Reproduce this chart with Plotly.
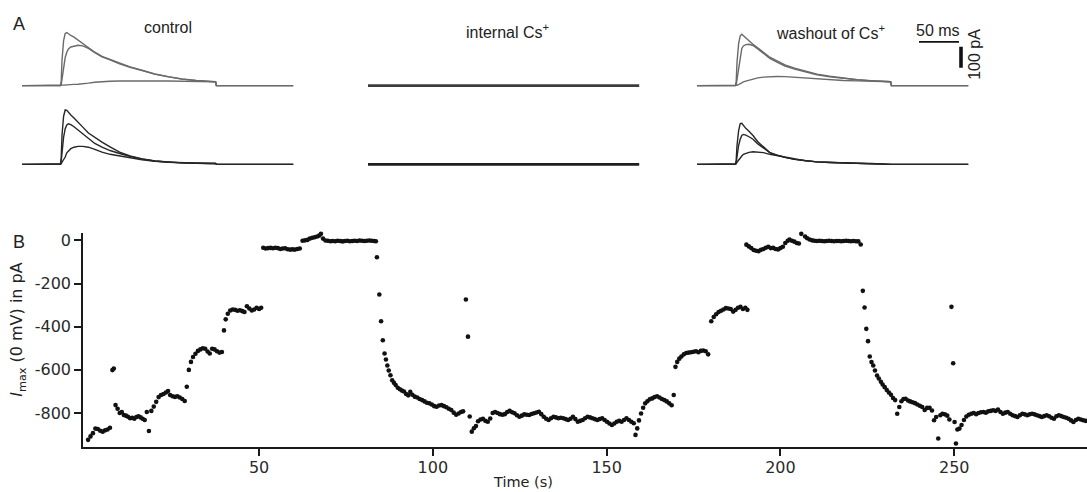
import plotly.graph_objects as go

W, H = 1087, 492

# ---------------- Panel B data: (time s, Imax pA) ----------------
seg_control_rundown = [
    (0.8, -924), (1.5, -908), (2.2, -893), (2.9, -872), (3.6, -874), (4.3, -882), (5.0, -886),
    (5.7, -880), (6.4, -876), (7.1, -868), (7.8, -601), (8.2, -594),
    (8.7, -763), (9.3, -780), (9.9, -800), (10.5, -795), (11.1, -809), (11.7, -812), (12.3, -817),
    (12.9, -824), (13.5, -822), (14.1, -826), (14.7, -818), (15.3, -815), (15.9, -820), (16.5, -826),
    (17.1, -832), (17.7, -795), (18.3, -883), (19.0, -790), (19.7, -770), (20.4, -748), (21.1, -726),
    (21.8, -716), (22.5, -712), (23.2, -705), (23.8, -698), (24.4, -716), (25.1, -722), (25.8, -725),
    (26.5, -722), (27.2, -728), (27.9, -735), (28.6, -744),
    (29.2, -678), (29.8, -600), (30.4, -563), (31.0, -540), (31.7, -525), (32.4, -512), (33.1, -505),
    (33.8, -500), (34.5, -502), (35.2, -515), (35.8, -524), (36.5, -502), (37.2, -505), (37.9, -514),
    (38.6, -520), (39.3, -517),
    (39.9, -417), (40.4, -366), (41.0, -340), (41.7, -325), (42.4, -320), (43.1, -322), (43.8, -326),
    (44.5, -324), (45.2, -328), (45.8, -332), (46.5, -305), (47.2, -316), (47.9, -325), (48.6, -320),
    (49.3, -312), (50.0, -318), (50.6, -312),
]
seg_cs_block = [
    (51.2, -34), (51.9, -38), (52.6, -36), (53.3, -35), (54.0, -37), (54.7, -34), (55.4, -36),
    (56.1, -40), (56.8, -38), (57.5, -37), (58.2, -41), (58.9, -43), (59.6, -42), (60.3, -43),
    (61.0, -40), (61.7, -38),
    (62.5, -2), (63.2, 0), (63.9, 2), (64.6, 8), (65.3, 12), (66.0, 14), (66.7, 18), (67.3, 22),
    (67.8, 30), (68.4, 8), (69.1, -1), (69.8, -2), (70.5, -4), (71.2, -3), (71.9, -4), (72.6, -2),
    (73.3, -3), (74.0, -5), (74.7, -3), (75.4, -2), (76.1, -4), (76.8, -3), (77.5, -2), (78.2, -3),
    (78.9, -1), (79.6, -2), (80.3, -3), (81.0, -2), (81.7, -1), (82.4, -2), (83.1, -3), (83.6, -4),
]
seg_washout_recovery = [
    (83.9, -78), (84.6, -251), (85.1, -375), (85.6, -463), (86.1, -524), (86.5, -552), (86.9, -580),
    (87.3, -603), (87.8, -625), (88.3, -648), (88.8, -660), (89.3, -670), (89.9, -683), (90.5, -690),
    (91.1, -696), (91.7, -700), (92.3, -712), (92.9, -718), (93.5, -702), (94.1, -715), (94.8, -724),
    (95.5, -728), (96.2, -735), (96.9, -740), (97.6, -746), (98.3, -752), (99.0, -755), (99.7, -760),
    (100.4, -768), (101.1, -771), (101.8, -765), (102.5, -763), (103.2, -768), (103.9, -773),
    (104.6, -780), (105.3, -786), (106.0, -798), (106.7, -808), (107.4, -802), (108.1, -795),
    (108.7, -792), (109.5, -274), (110.1, -446),
    (110.6, -816), (111.2, -886), (111.8, -870), (112.4, -860), (113.0, -838), (113.7, -830),
    (114.4, -827), (115.1, -836), (115.8, -840), (116.5, -825), (117.2, -800), (117.9, -795),
    (118.6, -800), (119.3, -805), (120.0, -808), (120.7, -805), (121.4, -795), (122.1, -790),
    (122.8, -796), (123.5, -801), (124.2, -810), (124.9, -817), (125.6, -812), (126.3, -806),
    (127.0, -808), (127.7, -809), (128.4, -804), (129.1, -801), (129.8, -797), (130.5, -794),
    (131.2, -805), (131.9, -817), (132.6, -826), (133.3, -832), (134.0, -824), (134.7, -817),
    (135.4, -820), (136.1, -824), (136.8, -822), (137.5, -824), (138.2, -828), (138.9, -832),
    (139.6, -826), (140.3, -817), (141.0, -828), (141.7, -840), (142.4, -836), (143.1, -832),
    (143.8, -824), (144.5, -817), (145.2, -820), (145.9, -824), (146.6, -828), (147.3, -832),
    (148.0, -828), (148.7, -824), (149.4, -832), (150.1, -840), (150.8, -848), (151.5, -855),
    (152.2, -848), (152.9, -840), (153.6, -836), (154.3, -840), (155.0, -832), (155.7, -824),
    (156.4, -832), (157.1, -840), (157.8, -847),
]
seg_second_rundown = [
    (158.3, -901), (158.8, -871), (159.3, -834), (159.9, -802), (160.5, -775), (161.1, -755),
    (161.7, -745), (162.4, -736), (163.1, -732), (163.8, -726), (164.5, -722), (165.2, -728),
    (165.9, -735), (166.6, -740), (167.3, -746), (168.0, -755), (168.7, -764), (169.3, -716),
    (169.8, -586), (170.3, -563), (170.9, -548), (171.5, -538), (172.2, -528), (172.9, -522),
    (173.6, -520), (174.3, -518), (175.0, -516), (175.7, -514), (176.4, -518), (177.1, -512),
    (177.8, -510), (178.5, -514), (179.2, -528),
    (180.1, -375), (180.8, -355), (181.5, -342), (182.2, -332), (182.9, -326), (183.6, -320),
    (184.3, -314), (185.0, -316), (185.7, -318), (186.4, -330), (187.1, -322), (187.8, -312),
    (188.5, -308), (189.2, -318), (189.9, -312), (190.5, -322),
]
seg_second_block = [
    (190.2, -20), (190.9, -28), (191.6, -36), (192.3, -45), (193.0, -48), (193.7, -50), (194.4, -44),
    (195.1, -40), (195.8, -34), (196.5, -30), (197.2, -36), (197.9, -35), (198.6, -40), (199.3, -42),
    (200.0, -36), (200.7, -30), (201.4, -12), (202.1, -2), (202.6, 4), (203.3, -2), (204.0, -6),
    (204.7, -12), (205.3, -15), (206.0, 30), (206.5, 35), (207.1, 18), (207.7, 10), (208.4, 4),
    (209.1, 0), (209.8, -2), (210.5, -3), (211.2, -2), (211.9, -3), (212.6, -4), (213.3, -3),
    (214.0, -2), (214.7, -3), (215.4, -4), (216.1, -3), (216.8, -3), (217.5, -4), (218.2, -3),
    (218.9, -2), (219.6, -3), (220.3, -4), (221.0, -3), (221.7, -4), (222.4, -5), (223.1, -19),
]
seg_second_recovery = [
    (223.7, -234), (224.2, -311), (224.7, -410), (225.2, -467), (225.7, -538), (226.2, -564),
    (226.7, -580), (227.2, -603), (227.8, -626), (228.3, -640), (228.9, -655), (229.4, -668),
    (230.0, -680), (230.6, -693), (231.2, -705), (231.8, -715), (232.4, -730), (233.0, -740),
    (233.6, -803), (234.2, -772), (234.8, -745), (235.4, -735), (236.0, -734), (236.7, -742),
    (237.3, -746), (238.0, -750), (238.7, -754), (239.4, -760), (240.1, -766), (240.8, -772),
    (241.5, -786), (242.2, -776), (242.9, -775), (243.6, -788), (244.2, -833), (244.8, -818),
    (245.4, -918), (246.0, -810), (246.6, -803), (247.3, -806), (248.0, -812), (248.6, -830),
    (249.2, -308), (249.7, -569), (250.1, -841), (250.5, -941), (250.9, -876), (251.5, -872),
    (252.1, -855), (252.8, -832), (253.5, -816), (254.2, -808), (254.9, -803), (255.6, -800),
    (256.3, -805), (257.0, -800), (257.7, -796), (258.4, -795), (259.1, -798), (259.8, -792),
    (260.5, -790), (261.2, -787), (261.9, -790), (262.6, -784), (263.3, -795), (264.0, -803),
    (264.7, -798), (265.4, -795), (266.1, -803), (266.8, -810), (267.5, -814), (268.2, -818),
    (268.9, -810), (269.6, -803), (270.3, -806), (271.0, -810), (271.7, -806), (272.4, -803),
    (273.1, -806), (273.8, -810), (274.5, -814), (275.2, -818), (275.9, -814), (276.6, -810),
    (277.3, -815), (278.0, -822), (278.7, -826), (279.4, -815), (280.1, -810), (280.8, -814),
    (281.5, -818), (282.2, -822), (282.9, -826), (283.6, -834), (284.3, -841), (285.0, -832),
    (285.7, -826), (286.4, -830), (287.1, -833), (287.8, -836),
]
all_segments = [seg_control_rundown, seg_cs_block, seg_washout_recovery,
                seg_second_rundown, seg_second_block, seg_second_recovery]
time_s = [p[0] for s in all_segments for p in s]
imax_pA = [p[1] for s in all_segments for p in s]

x_ticks = [50, 100, 150, 200, 250]
y_ticks = [0, -200, -400, -600, -800]
y_tick_text = ["0", "-200", "-400", "-600", "-800"]

# ---------------- Panel A data: current traces (pA) vs time (ms) ----------------
trace_ms = [0, 48, 49, 50, 52, 54, 56, 58, 61, 65, 70, 76, 83, 91, 100, 110, 122, 135, 150,
            166, 183, 200, 218, 235, 242, 243, 339]
ctrl_top_fast = [0, 0, 20, 120, 215, 250, 254, 248, 240, 232, 218, 200, 178, 160, 140, 125, 106, 90, 74, 56, 43, 32, 25, 20, 19, 0, 0]
ctrl_top_slow = [0, 0, 5, 30, 85, 135, 160, 175, 185, 190, 193, 190, 178, 158, 138, 123, 104, 88, 72, 55, 42, 31, 24, 19, 18, 0, 0]
ctrl_top_small = [0, 0, 0, 1, 2, 3, 4, 5, 6, 6, 7, 8, 12, 16, 19, 21, 22, 23, 23, 22, 22, 21, 20, 19, 18, 0, 0]
ctrl_bot_fast = [0, 0, 30, 140, 230, 260, 258, 248, 236, 222, 200, 178, 150, 128, 106, 84, 58, 40, 26, 16, 10, 7, 5, 4, 4, 0, 0]
ctrl_bot_mid = [0, 0, 15, 70, 130, 170, 188, 194, 190, 180, 165, 145, 122, 100, 82, 66, 52, 38, 26, 16, 10, 7, 5, 4, 4, 0, 0]
ctrl_bot_small = [0, 0, 3, 10, 22, 35, 55, 65, 75, 82, 86, 86, 82, 72, 58, 48, 40, 30, 22, 15, 10, 7, 5, 4, 4, 0, 0]
wash_top_fast = [0, 0, 20, 110, 200, 238, 246, 240, 230, 215, 198, 180, 160, 136, 118, 99, 84, 69, 55, 45, 36, 29, 24, 20, 19, 0, 0]
wash_top_slow = [0, 0, 5, 30, 90, 150, 178, 190, 196, 198, 192, 176, 155, 130, 112, 94, 79, 65, 52, 42, 34, 28, 23, 20, 19, 0, 0]
wash_top_small = [0, 0, 0, 2, 5, 10, 14, 18, 22, 26, 32, 37, 41, 43, 44, 43, 40, 36, 30, 27, 25, 23, 21, 20, 19, 0, 0]
wash_bot_fast = [0, 0, 20, 90, 160, 195, 196, 185, 172, 158, 138, 108, 82, 56, 44, 33, 24, 17, 12, 9, 7, 5, 4, 3, 2, 0, 0]
wash_bot_mid = [0, 0, 8, 40, 90, 120, 138, 143, 140, 132, 120, 98, 78, 56, 44, 33, 24, 17, 12, 9, 7, 5, 4, 3, 2, 0, 0]
wash_bot_small = [0, 0, 3, 10, 22, 32, 40, 48, 53, 57, 60, 58, 56, 48, 42, 33, 24, 17, 12, 9, 7, 5, 4, 3, 2, 0, 0]
cs_ms = [0, 339]
cs_top = [0, 0]
cs_bot = [0, 0]

# scale bars (ms, pA) drawn on the washout axes
scale_ms_x = [277.5, 327.5]
scale_ms_y = [209.5, 209.5]
scale_pa_x = [330, 330]
scale_pa_y = [86, 186]

# ---------------- figure ----------------
fig = go.Figure()

def px_x(p):
    return p / W

def px_y(p):
    return 1 - p / H

TOP_GRAY = "#6a6a6a"
BOT_DARK = "#262626"

for xa, traces in [
    ("x2", [(ctrl_top_fast, "y2", TOP_GRAY), (ctrl_top_slow, "y2", TOP_GRAY), (ctrl_top_small, "y2", TOP_GRAY),
            (ctrl_bot_fast, "y3", BOT_DARK), (ctrl_bot_mid, "y3", BOT_DARK), (ctrl_bot_small, "y3", BOT_DARK)]),
    ("x4", [(wash_top_fast, "y2", TOP_GRAY), (wash_top_slow, "y2", TOP_GRAY), (wash_top_small, "y2", TOP_GRAY),
            (wash_bot_fast, "y3", BOT_DARK), (wash_bot_mid, "y3", BOT_DARK), (wash_bot_small, "y3", BOT_DARK)]),
]:
    for vals, ya, col in traces:
        fig.add_trace(go.Scatter(x=trace_ms, y=vals, xaxis=xa, yaxis=ya, mode="lines",
                                 line=dict(color=col, width=1.4), hoverinfo="skip"))

fig.add_trace(go.Scatter(x=cs_ms, y=cs_top, xaxis="x3", yaxis="y2", mode="lines",
                         line=dict(color="#3c3c3c", width=2.6), hoverinfo="skip"))
fig.add_trace(go.Scatter(x=cs_ms, y=cs_bot, xaxis="x3", yaxis="y3", mode="lines",
                         line=dict(color="#1e1e1e", width=2.6), hoverinfo="skip"))

fig.add_trace(go.Scatter(x=scale_ms_x, y=scale_ms_y, xaxis="x4", yaxis="y2", mode="lines",
                         line=dict(color="#111", width=1.6), hoverinfo="skip"))
fig.add_trace(go.Scatter(x=scale_pa_x, y=scale_pa_y, xaxis="x4", yaxis="y2", mode="lines",
                         line=dict(color="#111", width=3.6), hoverinfo="skip"))

fig.add_trace(go.Scatter(x=time_s, y=imax_pA, mode="markers",
                         marker=dict(color="#111111", size=4.6, line=dict(width=0)),
                         cliponaxis=False))

row_range = [-47.6, 314.3]
col_range = [0, 340]
hidden = dict(visible=False, showgrid=False, zeroline=False, fixedrange=True)

fig.update_layout(
    width=W, height=H,
    margin=dict(l=0, r=0, t=0, b=0),
    paper_bgcolor="white", plot_bgcolor="white",
    showlegend=False,
    xaxis=dict(domain=[px_x(83), 1.0], range=[-0.66, 288.2], anchor="y",
               showline=True, linecolor="#1a1a1a", linewidth=1.6,
               ticks="outside", ticklen=7, tickwidth=1.6, tickcolor="#1a1a1a",
               tickvals=x_ticks, ticktext=[str(v) for v in x_ticks],
               ticklabelstandoff=-2,
               tickfont=dict(family="DejaVu Sans", size=16, color="#2a2a2a"),
               showgrid=False, zeroline=False),
    yaxis=dict(domain=[px_y(446.7), px_y(232.3)], range=[-956.6, 32.3], anchor="x",
               showline=True, linecolor="#1a1a1a", linewidth=1.6,
               ticks="outside", ticklen=7, tickwidth=1.6, tickcolor="#1a1a1a",
               tickvals=y_ticks, ticktext=y_tick_text,
               tickfont=dict(family="DejaVu Sans", size=16, color="#2a2a2a"),
               showgrid=False, zeroline=False),
    xaxis2=dict(domain=[px_x(22), px_x(294)], range=col_range, anchor="y2", **hidden),
    xaxis3=dict(domain=[px_x(368), px_x(640)], range=col_range, anchor="y2", **hidden),
    xaxis4=dict(domain=[px_x(697), px_x(969)], range=col_range, anchor="y2", **hidden),
    yaxis2=dict(domain=[px_y(94), px_y(18)], range=row_range, anchor="x2", **hidden),
    yaxis3=dict(domain=[px_y(173), px_y(97)], range=row_range, anchor="x2", **hidden),
)

SANS = "Liberation Sans, Arial, sans-serif"

def note(text, x, y, size, family=SANS, angle=0, color="#222"):
    fig.add_annotation(text=text, x=px_x(x), y=px_y(y), xref="paper", yref="paper",
                       showarrow=False, xanchor="center", yanchor="middle",
                       textangle=angle, font=dict(family=family, size=size, color=color))

note("A", 19, 22, 18)
note("B", 19, 241, 18)
note("control", 168, 26, 16)
note("internal Cs<sup>+</sup>", 507, 29, 16)
note("washout of Cs<sup>+</sup>", 831, 30, 16)
note("50 ms", 938, 29, 16)
note("100 pA", 975, 53, 16, angle=-90)
note("<i>I</i><sub>max</sub> (0 mV) in pA", 18, 329, 16, family="DejaVu Sans", angle=-90)
note("Time (s)", 523, 482, 14.5, family="DejaVu Sans")

fig.write_html("out.html", config={"displayModeBar": False},
               post_script="document.body.style.margin='0';document.body.style.overflow='hidden';")
